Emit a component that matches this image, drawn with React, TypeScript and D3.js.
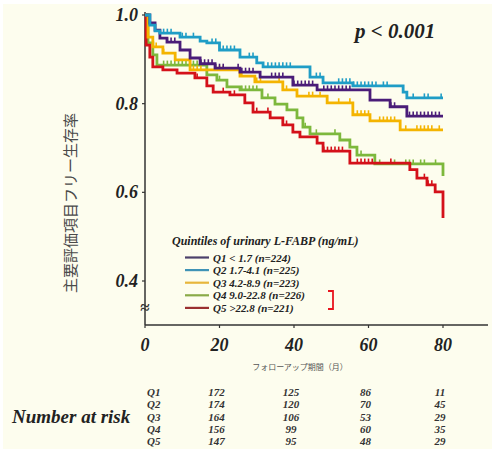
import { useEffect, useRef } from 'react';
import * as d3 from 'd3';

// survival steps: [month, survival]
const q1Steps = [[0, 1.0], [1.3, 0.982], [2.7, 0.966], [4, 0.948], [5.9, 0.939], [9.4, 0.921], [12.1, 0.903], [14.8, 0.89], [18.8, 0.88], [25.5, 0.871], [30.9, 0.86], [39.7, 0.842], [46.2, 0.831], [60.4, 0.808], [65.8, 0.793], [70.3, 0.772], [80, 0.772]];
const q2Steps = [[0, 1.0], [1.3, 0.977], [2.7, 0.964], [4, 0.959], [9.4, 0.95], [14.8, 0.941], [16.6, 0.937], [20, 0.921], [25.5, 0.905], [30, 0.892], [31.7, 0.883], [44.3, 0.86], [47.8, 0.847], [55.8, 0.84], [69.3, 0.826], [70.3, 0.813], [80, 0.813]];
const q3Steps = [[0, 1.0], [0.8, 0.95], [2.1, 0.928], [4.8, 0.914], [8.1, 0.899], [12.1, 0.876], [25.5, 0.862], [29.5, 0.849], [37, 0.831], [40.8, 0.817], [48.9, 0.802], [55.8, 0.775], [60.4, 0.761], [68.5, 0.741], [80, 0.741]];
const q4Steps = [[0, 1.0], [0.8, 0.937], [2.1, 0.91], [3.2, 0.887], [16.6, 0.865], [19.3, 0.853], [22, 0.838], [25.5, 0.831], [31.4, 0.813], [34.9, 0.799], [38.1, 0.786], [40.8, 0.768], [42.4, 0.747], [44.3, 0.732], [52.3, 0.718], [55, 0.702], [56.9, 0.684], [61.7, 0.664], [80, 0.637]];
const q5Steps = [[0, 1.0], [0.3, 0.932], [1.3, 0.905], [2.1, 0.883], [4.8, 0.876], [8.6, 0.869], [13.4, 0.858], [16.6, 0.84], [18.3, 0.826], [22.8, 0.82], [26.8, 0.802], [29, 0.781], [33.6, 0.768], [37, 0.752], [39.7, 0.736], [41.6, 0.725], [46.2, 0.711], [47.8, 0.693], [55, 0.666], [71.1, 0.651], [73, 0.632], [75.7, 0.617], [77.9, 0.601], [80, 0.542]];

// censoring marks (months)
const q1Censor = [6, 7, 8, 15, 16, 17, 18, 19, 20, 21, 25, 26, 27, 28, 29, 34, 35, 36, 37, 40, 41, 42, 43, 44, 45, 48, 49, 50, 51, 52, 53, 54, 55, 66, 67, 71, 72, 73, 74, 75, 76, 77, 78, 79];
const q2Censor = [5, 6, 7, 10, 11, 13, 18, 19, 21, 22, 23, 24, 28, 29, 33, 34, 35, 36, 37, 38, 39, 46, 47, 52, 53, 54, 55, 56, 57, 58, 59, 60, 61, 62, 64, 65, 72, 75, 76, 79.5];
const q3Censor = [3, 5, 13, 14, 15, 20, 21, 26, 30, 31, 36, 37, 38, 44, 45, 47, 52, 55, 57, 58, 59, 60, 63, 64, 65, 66, 67, 70, 73, 74, 75, 76, 77, 79];
const q4Censor = [5, 6, 7, 8, 9, 10, 11, 12, 13, 14, 15, 20, 26, 27, 28, 29, 30, 33, 43, 46, 51, 58, 63, 67, 70, 71, 72, 74, 75, 78];
const q5Censor = [14, 21, 24, 30, 33, 38, 48, 49, 50, 51, 52, 53, 57, 58, 59, 60, 61, 66, 75, 76, 77];

const groupNames = ['Q1', 'Q2', 'Q3', 'Q4', 'Q5'];
const legendLabels = ['Q1 < 1.7 (n=224)', 'Q2 1.7-4.1 (n=225)', 'Q3 4.2-8.9 (n=223)', 'Q4 9.0-22.8 (n=226)', 'Q5 >22.8 (n=221)'];
const curveColors = ['#4a1c78', '#1f9dc6', '#f4b400', '#7db83c', '#d4111a'];
const legendColors = ['#4b406a', '#3f93b6', '#e7b63c', '#8aaa48', '#9a3030'];

const xTicks = [0, 20, 40, 60, 80];
const yTicks = [0.4, 0.6, 0.8, 1.0];
const riskTimes = [20, 40, 60, 80];
const atRisk = [
  [172, 125, 86, 11],
  [174, 120, 70, 45],
  [164, 106, 53, 29],
  [156, 99, 60, 35],
  [147, 95, 48, 29],
];

const serif = '"Liberation Serif", "Times New Roman", serif';

const App = () => {
  const svgRef = useRef(null);

  useEffect(() => {
    document.body.style.margin = '0';
    const svg = d3.select(svgRef.current);
    svg.selectAll('*').remove();

    const x = d3.scaleLinear().domain([0, 80]).range([145, 443]);
    const y = d3.scaleLinear().domain([0.4, 1.0]).range([281, 15]);
    const axisBottomY = 325;

    svg.append('rect').attr('width', 495).attr('height', 452).attr('fill', '#ffffff');
    svg.append('rect').attr('x', 3).attr('y', 4).attr('width', 489).attr('height', 445).attr('fill', '#fdfdee');

    // axes
    svg.append('line').attr('x1', x(0)).attr('x2', x(0)).attr('y1', 12).attr('y2', axisBottomY)
      .attr('stroke', '#333').attr('stroke-width', 1.5);
    svg.append('line').attr('x1', x(0)).attr('x2', 488).attr('y1', axisBottomY).attr('y2', axisBottomY)
      .attr('stroke', '#333').attr('stroke-width', 1.5);

    svg.selectAll('.ytick').data(yTicks).enter().append('line')
      .attr('x1', x(0) - 3).attr('x2', x(0)).attr('y1', d => y(d)).attr('y2', d => y(d))
      .attr('stroke', '#333').attr('stroke-width', 1.2);
    svg.selectAll('.ylab').data(yTicks).enter().append('text')
      .attr('x', 138).attr('y', d => y(d) + 6)
      .attr('text-anchor', 'end')
      .style('font', `italic bold 18px ${serif}`).attr('fill', '#222')
      .text(d => d.toFixed(1));

    svg.selectAll('.xtick').data(xTicks).enter().append('line')
      .attr('x1', d => x(d)).attr('x2', d => x(d)).attr('y1', axisBottomY).attr('y2', axisBottomY + 3)
      .attr('stroke', '#333').attr('stroke-width', 1.2);
    svg.selectAll('.xlab').data(xTicks).enter().append('text')
      .attr('x', d => x(d)).attr('y', 351)
      .attr('text-anchor', 'middle')
      .style('font', `italic bold 18px ${serif}`).attr('fill', '#222')
      .text(d => d);

    // axis break
    svg.append('text').attr('x', x(0)).attr('y', 313).attr('text-anchor', 'middle')
      .style('font', `bold 17px ${serif}`).attr('fill', '#333').text('≈');

    // titles
    svg.append('text')
      .attr('transform', 'translate(76,203) rotate(-90)')
      .attr('text-anchor', 'middle')
      .style('font', '15px "Noto Sans CJK JP", sans-serif').attr('fill', '#4a4a4a')
      .text('主要評価項目フリー生存率');
    svg.append('text').attr('x', 300).attr('y', 370).attr('text-anchor', 'middle')
      .style('font', '8px "Noto Sans CJK JP", sans-serif').attr('fill', '#555')
      .text('フォローアップ期間（月）');
    svg.append('text').attr('x', 355).attr('y', 38)
      .style('font', `italic bold 21px ${serif}`).attr('fill', '#222')
      .text('p < 0.001');

    // curves
    const steps = [q1Steps, q2Steps, q3Steps, q4Steps, q5Steps];
    const censors = [q1Censor, q2Censor, q3Censor, q4Censor, q5Censor];
    const line = d3.line()
      .x(d => x(d[0]))
      .y(d => y(d[1]))
      .curve(d3.curveStepAfter);
    const drawOrder = [3, 4, 2, 0, 1];

    drawOrder.forEach(i => {
      const g = svg.append('g');
      g.append('path')
        .attr('d', line(steps[i]))
        .attr('fill', 'none')
        .attr('stroke', curveColors[i])
        .attr('stroke-width', 2.8);
      const valueAt = t => {
        let v = steps[i][0][1];
        steps[i].forEach(p => { if (p[0] <= t) v = p[1]; });
        return v;
      };
      g.selectAll('line').data(censors[i]).enter().append('line')
        .attr('x1', d => x(d)).attr('x2', d => x(d))
        .attr('y1', d => y(valueAt(d)))
        .attr('y2', d => y(valueAt(d)) - 4.5)
        .attr('stroke', curveColors[i]).attr('stroke-width', 1.6);
    });

    // legend
    const legend = svg.append('g');
    legend.append('text').attr('x', 172).attr('y', 245)
      .style('font', `italic bold 12px ${serif}`).attr('fill', '#222')
      .text('Quintiles of urinary L-FABP (ng/mL)');
    legendLabels.forEach((lab, i) => {
      const ly = 257.5 + i * 12.6;
      legend.append('line').attr('x1', 185).attr('x2', 209).attr('y1', ly).attr('y2', ly)
        .attr('stroke', legendColors[i]).attr('stroke-width', 2.2);
      legend.append('text').attr('x', 213).attr('y', ly + 4)
        .style('font', `italic bold 11px ${serif}`).attr('fill', '#222')
        .text(lab);
    });
    svg.append('path').attr('d', 'M328,291 H333 V309 H328')
      .attr('fill', 'none').attr('stroke', '#e8141e').attr('stroke-width', 1.8);

    // number at risk table
    svg.append('text').attr('x', 12).attr('y', 423)
      .style('font', `italic bold 19px ${serif}`).attr('fill', '#222')
      .text('Number at risk');
    groupNames.forEach((name, r) => {
      const ry = 396 + r * 12.3;
      svg.append('text').attr('x', 147).attr('y', ry)
        .style('font', `italic bold 11px ${serif}`).attr('fill', '#333')
        .text(name);
      svg.selectAll(`.risk${r}`).data(atRisk[r]).enter().append('text')
        .attr('x', (_, j) => x(riskTimes[j]) - 3).attr('y', ry)
        .attr('text-anchor', 'middle')
        .style('font', `italic bold 11px ${serif}`).attr('fill', '#333')
        .text(d => d);
    });
  }, []);

  return (
    <div>
      <svg ref={svgRef} width={495} height={452} style={{ display: 'block' }} />
    </div>
  );
};

export default App;
